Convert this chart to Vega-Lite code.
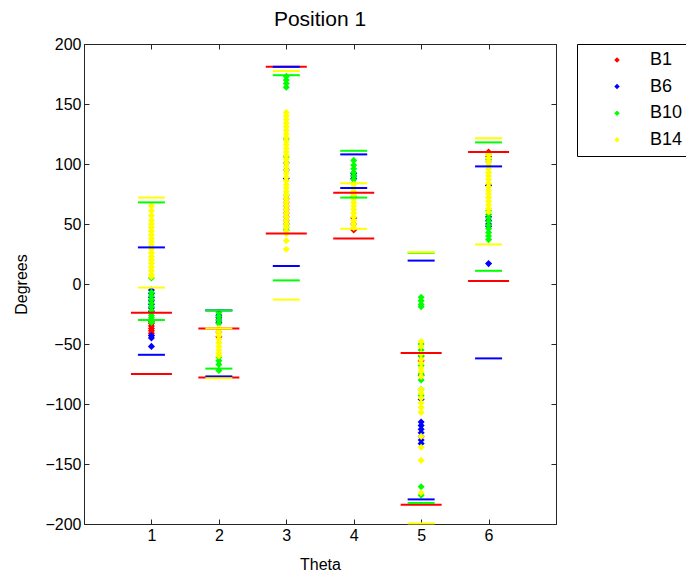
{
  "$schema": "https://vega.github.io/schema/vega-lite/v6.json",
  "width": 472,
  "height": 480,
  "autosize": {"type": "none"},
  "padding": {"left": 84, "top": 44, "right": 130, "bottom": 50},
  "background": "white",
  "title": {"text": "Position 1", "font": "Liberation Sans", "fontSize": 21, "fontWeight": "normal", "color": "black", "offset": 6},
  "datasets": {
    "pts": [
      {"t":1,"s":"B1","v":-31},{"t":1,"s":"B1","v":-33},{"t":1,"s":"B1","v":-35},{"t":1,"s":"B1","v":-37},{"t":1,"s":"B1","v":-39},{"t":1,"s":"B1","v":-41},{"t":1,"s":"B1","v":-43},
      {"t":2,"s":"B1","v":-40},{"t":2,"s":"B1","v":-44},
      {"t":3,"s":"B1","v":71},{"t":3,"s":"B1","v":68},{"t":3,"s":"B1","v":65},{"t":3,"s":"B1","v":62},{"t":3,"s":"B1","v":59},{"t":3,"s":"B1","v":56},{"t":3,"s":"B1","v":53},{"t":3,"s":"B1","v":50},
      {"t":4,"s":"B1","v":45},{"t":4,"s":"B1","v":50},{"t":4,"s":"B1","v":55},
      {"t":5,"s":"B1","v":-60},{"t":5,"s":"B1","v":-64},
      {"t":6,"s":"B1","v":110},{"t":6,"s":"B1","v":106},{"t":6,"s":"B1","v":102},{"t":6,"s":"B1","v":82},

      {"t":1,"s":"B6","v":-5},{"t":1,"s":"B6","v":-8},{"t":1,"s":"B6","v":-11},{"t":1,"s":"B6","v":-14},{"t":1,"s":"B6","v":-17},{"t":1,"s":"B6","v":-20},{"t":1,"s":"B6","v":-23},{"t":1,"s":"B6","v":-43},{"t":1,"s":"B6","v":-45},{"t":1,"s":"B6","v":-52},
      {"t":2,"s":"B6","v":-26},{"t":2,"s":"B6","v":-28},{"t":2,"s":"B6","v":-30},{"t":2,"s":"B6","v":-32},
      {"t":3,"s":"B6","v":101},{"t":3,"s":"B6","v":95},{"t":3,"s":"B6","v":88},
      {"t":4,"s":"B6","v":92},{"t":4,"s":"B6","v":90},{"t":4,"s":"B6","v":88},
      {"t":5,"s":"B6","v":-76},{"t":5,"s":"B6","v":-96},{"t":5,"s":"B6","v":-115},{"t":5,"s":"B6","v":-118},{"t":5,"s":"B6","v":-121},{"t":5,"s":"B6","v":-124},{"t":5,"s":"B6","v":-127},{"t":5,"s":"B6","v":-130},{"t":5,"s":"B6","v":-133},
      {"t":6,"s":"B6","v":82},{"t":6,"s":"B6","v":56},{"t":6,"s":"B6","v":53},{"t":6,"s":"B6","v":50},{"t":6,"s":"B6","v":48},{"t":6,"s":"B6","v":17},

      {"t":1,"s":"B10","v":5},{"t":1,"s":"B10","v":-7},{"t":1,"s":"B10","v":-10},{"t":1,"s":"B10","v":-13},{"t":1,"s":"B10","v":-16},{"t":1,"s":"B10","v":-19},{"t":1,"s":"B10","v":-22},{"t":1,"s":"B10","v":-26},{"t":1,"s":"B10","v":-28},{"t":1,"s":"B10","v":-30},{"t":1,"s":"B10","v":-32},
      {"t":2,"s":"B10","v":-24},{"t":2,"s":"B10","v":-27},{"t":2,"s":"B10","v":-30},{"t":2,"s":"B10","v":-33},{"t":2,"s":"B10","v":-61},{"t":2,"s":"B10","v":-64},{"t":2,"s":"B10","v":-67},{"t":2,"s":"B10","v":-72},
      {"t":3,"s":"B10","v":173},{"t":3,"s":"B10","v":170},{"t":3,"s":"B10","v":167},{"t":3,"s":"B10","v":164},{"t":3,"s":"B10","v":121},{"t":3,"s":"B10","v":106},{"t":3,"s":"B10","v":74},{"t":3,"s":"B10","v":50},{"t":3,"s":"B10","v":47},{"t":3,"s":"B10","v":45},
      {"t":4,"s":"B10","v":103},{"t":4,"s":"B10","v":99},{"t":4,"s":"B10","v":96},{"t":4,"s":"B10","v":93},{"t":4,"s":"B10","v":90},{"t":4,"s":"B10","v":87},{"t":4,"s":"B10","v":84},{"t":4,"s":"B10","v":80},{"t":4,"s":"B10","v":76},{"t":4,"s":"B10","v":73},
      {"t":5,"s":"B10","v":-11},{"t":5,"s":"B10","v":-14},{"t":5,"s":"B10","v":-17},{"t":5,"s":"B10","v":-19},{"t":5,"s":"B10","v":-50},{"t":5,"s":"B10","v":-55},{"t":5,"s":"B10","v":-60},{"t":5,"s":"B10","v":-68},{"t":5,"s":"B10","v":-75},{"t":5,"s":"B10","v":-80},{"t":5,"s":"B10","v":-88},{"t":5,"s":"B10","v":-93},{"t":5,"s":"B10","v":-169},{"t":5,"s":"B10","v":-176},
      {"t":6,"s":"B10","v":108},{"t":6,"s":"B10","v":104},{"t":6,"s":"B10","v":61},{"t":6,"s":"B10","v":58},{"t":6,"s":"B10","v":55},{"t":6,"s":"B10","v":52},{"t":6,"s":"B10","v":49},{"t":6,"s":"B10","v":46},{"t":6,"s":"B10","v":43},{"t":6,"s":"B10","v":40},{"t":6,"s":"B10","v":37},

      {"t":1,"s":"B14","v":65},{"t":1,"s":"B14","v":61},{"t":1,"s":"B14","v":57},{"t":1,"s":"B14","v":53},{"t":1,"s":"B14","v":50},{"t":1,"s":"B14","v":47},{"t":1,"s":"B14","v":44},{"t":1,"s":"B14","v":41},{"t":1,"s":"B14","v":38},{"t":1,"s":"B14","v":35},{"t":1,"s":"B14","v":32},{"t":1,"s":"B14","v":29},{"t":1,"s":"B14","v":26},{"t":1,"s":"B14","v":23},{"t":1,"s":"B14","v":20},{"t":1,"s":"B14","v":17},{"t":1,"s":"B14","v":14},{"t":1,"s":"B14","v":11},{"t":1,"s":"B14","v":8},{"t":1,"s":"B14","v":6},
      {"t":2,"s":"B14","v":-37},{"t":2,"s":"B14","v":-40},{"t":2,"s":"B14","v":-43},{"t":2,"s":"B14","v":-46},{"t":2,"s":"B14","v":-49},{"t":2,"s":"B14","v":-52},{"t":2,"s":"B14","v":-55},{"t":2,"s":"B14","v":-58},{"t":2,"s":"B14","v":-60},
      {"t":3,"s":"B14","v":143},{"t":3,"s":"B14","v":140},{"t":3,"s":"B14","v":137},{"t":3,"s":"B14","v":134},{"t":3,"s":"B14","v":131},{"t":3,"s":"B14","v":128},{"t":3,"s":"B14","v":125},{"t":3,"s":"B14","v":122},{"t":3,"s":"B14","v":119},{"t":3,"s":"B14","v":116},{"t":3,"s":"B14","v":113},{"t":3,"s":"B14","v":110},{"t":3,"s":"B14","v":107},{"t":3,"s":"B14","v":104},{"t":3,"s":"B14","v":101},{"t":3,"s":"B14","v":98},{"t":3,"s":"B14","v":95},{"t":3,"s":"B14","v":92},{"t":3,"s":"B14","v":89},{"t":3,"s":"B14","v":86},{"t":3,"s":"B14","v":83},{"t":3,"s":"B14","v":80},{"t":3,"s":"B14","v":77},{"t":3,"s":"B14","v":74},{"t":3,"s":"B14","v":71},{"t":3,"s":"B14","v":68},{"t":3,"s":"B14","v":65},{"t":3,"s":"B14","v":62},{"t":3,"s":"B14","v":59},{"t":3,"s":"B14","v":56},{"t":3,"s":"B14","v":53},{"t":3,"s":"B14","v":50},{"t":3,"s":"B14","v":47},{"t":3,"s":"B14","v":44},{"t":3,"s":"B14","v":42},{"t":3,"s":"B14","v":36},{"t":3,"s":"B14","v":29},
      {"t":4,"s":"B14","v":83},{"t":4,"s":"B14","v":80},{"t":4,"s":"B14","v":77},{"t":4,"s":"B14","v":74},{"t":4,"s":"B14","v":71},{"t":4,"s":"B14","v":68},{"t":4,"s":"B14","v":65},{"t":4,"s":"B14","v":62},{"t":4,"s":"B14","v":59},{"t":4,"s":"B14","v":56},{"t":4,"s":"B14","v":53},{"t":4,"s":"B14","v":50},{"t":4,"s":"B14","v":47},
      {"t":5,"s":"B14","v":-48},{"t":5,"s":"B14","v":-52},{"t":5,"s":"B14","v":-58},{"t":5,"s":"B14","v":-63},{"t":5,"s":"B14","v":-66},{"t":5,"s":"B14","v":-70},{"t":5,"s":"B14","v":-73},{"t":5,"s":"B14","v":-77},{"t":5,"s":"B14","v":-88},{"t":5,"s":"B14","v":-91},{"t":5,"s":"B14","v":-95},{"t":5,"s":"B14","v":-99},{"t":5,"s":"B14","v":-103},{"t":5,"s":"B14","v":-107},{"t":5,"s":"B14","v":-127},{"t":5,"s":"B14","v":-136},{"t":5,"s":"B14","v":-147},{"t":5,"s":"B14","v":-174},
      {"t":6,"s":"B14","v":108},{"t":6,"s":"B14","v":105},{"t":6,"s":"B14","v":102},{"t":6,"s":"B14","v":99},{"t":6,"s":"B14","v":96},{"t":6,"s":"B14","v":93},{"t":6,"s":"B14","v":90},{"t":6,"s":"B14","v":87},{"t":6,"s":"B14","v":84},{"t":6,"s":"B14","v":81},{"t":6,"s":"B14","v":78},{"t":6,"s":"B14","v":75},{"t":6,"s":"B14","v":72},{"t":6,"s":"B14","v":69},{"t":6,"s":"B14","v":66},{"t":6,"s":"B14","v":63},{"t":6,"s":"B14","v":60}
    ],
    "caps": [
      {"t":1,"s":"B1","v":-24},{"t":1,"s":"B1","v":-75},{"t":2,"s":"B1","v":-37},{"t":2,"s":"B1","v":-78},{"t":3,"s":"B1","v":181},{"t":3,"s":"B1","v":42},{"t":4,"s":"B1","v":76},{"t":4,"s":"B1","v":38},{"t":5,"s":"B1","v":-57.5},{"t":5,"s":"B1","v":-184},{"t":6,"s":"B1","v":110},{"t":6,"s":"B1","v":2.5},
      {"t":1,"s":"B6","v":30.5},{"t":1,"s":"B6","v":-59},{"t":2,"s":"B6","v":-22},{"t":2,"s":"B6","v":-77},{"t":3,"s":"B6","v":181},{"t":3,"s":"B6","v":15},{"t":4,"s":"B6","v":108},{"t":4,"s":"B6","v":80},{"t":5,"s":"B6","v":19.5},{"t":5,"s":"B6","v":-179.5},{"t":6,"s":"B6","v":98},{"t":6,"s":"B6","v":-62},
      {"t":1,"s":"B10","v":68},{"t":1,"s":"B10","v":-30},{"t":2,"s":"B10","v":-22},{"t":2,"s":"B10","v":-70.5},{"t":3,"s":"B10","v":174},{"t":3,"s":"B10","v":3},{"t":4,"s":"B10","v":111},{"t":4,"s":"B10","v":72},{"t":5,"s":"B10","v":26},{"t":5,"s":"B10","v":-182.5},{"t":6,"s":"B10","v":118},{"t":6,"s":"B10","v":11},
      {"t":1,"s":"B14","v":72},{"t":1,"s":"B14","v":-3},{"t":2,"s":"B14","v":-37},{"t":2,"s":"B14","v":-78.5},{"t":3,"s":"B14","v":177.5},{"t":3,"s":"B14","v":-13},{"t":4,"s":"B14","v":84},{"t":4,"s":"B14","v":46},{"t":5,"s":"B14","v":26.5},{"t":5,"s":"B14","v":-199.5},{"t":6,"s":"B14","v":121.5},{"t":6,"s":"B14","v":33}
    ]
  },
  "layer": [
    {
      "data": {"name": "pts"},
      "mark": {"type": "point", "shape": "diamond", "filled": true, "opacity": 1, "size": 50, "strokeWidth": 0},
      "encoding": {
        "x": {"field": "t", "type": "quantitative", "scale": {"domain": [0, 7], "nice": false, "zero": false},
              "axis": {"orient": "bottom", "values": [1,2,3,4,5,6], "title": "Theta", "labelPadding": 8, "titlePadding": 13}},
        "y": {"field": "v", "type": "quantitative", "scale": {"domain": [-200, 200], "nice": false, "zero": false},
              "axis": {"orient": "left", "values": [-200,-150,-100,-50,0,50,100,150,200], "title": "Degrees", "labelPadding": 8, "titlePadding": 15}},
        "color": {"field": "s", "type": "nominal",
                  "scale": {"domain": ["B1","B6","B10","B14"], "range": ["#ff0000","#0000ff","#00ff00","#ffff00"]},
                  "legend": {"orient": "none", "legendX": 493, "legendY": 0, "title": null, "strokeColor": "black", "padding": 7,
                             "symbolType": "diamond", "symbolSize": 30, "symbolOffset": 24, "labelOffset": 24, "symbolStrokeWidth": 0,
                             "labelFont": "Liberation Sans", "labelFontSize": 18, "labelColor": "black", "rowPadding": 8.6, "fillColor": "white"}}
      }
    },
    {
      "data": {"name": "caps"},
      "transform": [{"filter": "datum.s === 'B1'"}],
      "mark": {"type": "tick", "orient": "horizontal", "thickness": 2, "size": 41, "opacity": 1},
      "encoding": {
        "x": {"field": "t", "type": "quantitative", "axis": {"orient": "top", "values": [1,2,3,4,5,6], "labels": false, "title": null}},
        "y": {"field": "v", "type": "quantitative", "axis": {"orient": "right", "values": [-200,-150,-100,-50,0,50,100,150,200], "labels": false, "title": null}},
        "color": {"field": "s", "type": "nominal"}
      }
    },
    {
      "data": {"name": "caps"},
      "transform": [{"filter": "datum.s !== 'B1'"}],
      "mark": {"type": "tick", "orient": "horizontal", "thickness": 2, "size": 27, "opacity": 1},
      "encoding": {
        "x": {"field": "t", "type": "quantitative", "axis": null},
        "y": {"field": "v", "type": "quantitative", "axis": null},
        "color": {"field": "s", "type": "nominal"}
      }
    }
  ],
  "resolve": {"axis": {"x": "independent", "y": "independent"}},
  "config": {
    "view": {"stroke": "#262626", "strokeWidth": 1},
    "axis": {"grid": false, "domainColor": "#262626", "tickColor": "#262626", "tickSize": -5, "domainWidth": 1, "tickWidth": 1,
             "labelColor": "black", "titleColor": "black", "labelFont": "Liberation Sans", "titleFont": "Liberation Sans",
             "labelFontSize": 16, "titleFontSize": 16, "titleFontWeight": "normal"}
  }
}
